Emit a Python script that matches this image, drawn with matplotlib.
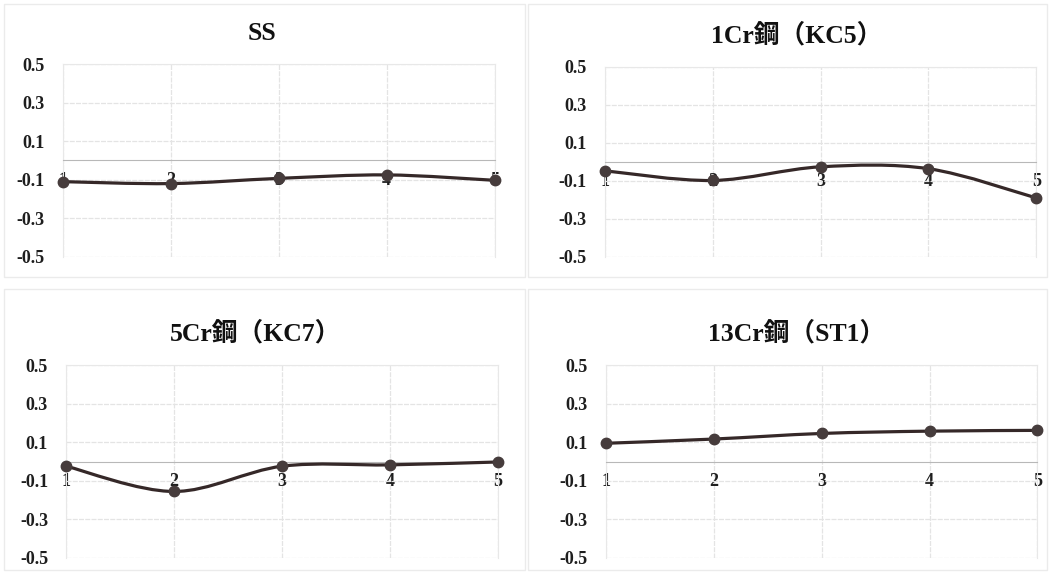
import numpy as np
import matplotlib
matplotlib.use("Agg")
import matplotlib.pyplot as plt
from matplotlib.path import Path
from matplotlib.patches import PathPatch, Rectangle

plt.rcParams['axes.unicode_minus'] = False

# data
points = [1, 2, 3, 4, 5]
yticks = [0.5, 0.3, 0.1, -0.1, -0.3, -0.5]
ss = [-0.11, -0.12, -0.093, -0.075, -0.103]
cr1 = [-0.047, -0.098, -0.026, -0.036, -0.19]
cr5 = [-0.024, -0.155, -0.024, -0.017, -0.002]
cr13 = [0.095, 0.117, 0.146, 0.158, 0.162]
titles = ['SS', '1Cr鋼（KC5）', '5Cr鋼（KC7）', '13Cr鋼（ST1）']
series = [ss, cr1, cr5, cr13]

# axes rectangles in figure fractions
boxes = [
    [0.060, 0.551, 0.411, 0.337],
    [0.576, 0.551, 0.411, 0.332],
    [0.063, 0.0245, 0.411, 0.337],
    [0.577, 0.0245, 0.411, 0.337],
]
frames = [
    [0.004, 0.515, 0.496, 0.478],
    [0.503, 0.515, 0.494, 0.478],
    [0.004, 0.004, 0.496, 0.49],
    [0.503, 0.004, 0.494, 0.49],
]
# chart titles are centred on the chart frame, not the plot area
title_pos = [(0.2495, 0.941), (0.759, 0.938), (0.243, 0.418), (0.759, 0.418)]

serif = ['Liberation Serif', 'Noto Sans CJK JP', 'DejaVu Serif']
line_col = '#352828'


def smooth_path(x, y):
    # Excel style smoothed line: cubic bezier through every point
    p = np.column_stack([x, y]).astype(float)
    n = len(p)
    verts = [p[0]]
    codes = [Path.MOVETO]
    for i in range(n - 1):
        p0 = p[max(i - 1, 0)]
        p1 = p[i]
        p2 = p[i + 1]
        p3 = p[min(i + 2, n - 1)]
        verts += [p1 + (p2 - p0) / 6, p2 - (p3 - p1) / 6, p2]
        codes += [Path.CURVE4] * 3
    return Path(verts, codes)


fig = plt.figure(figsize=(10.5, 5.72), dpi=100)

for fr in frames:
    fig.patches.append(Rectangle((fr[0], fr[1]), fr[2], fr[3], transform=fig.transFigure,
                                 fill=False, edgecolor='#ebebeb', lw=1))

for box, vals, title, tp in zip(boxes, series, titles, title_pos):
    ax = fig.add_axes(box)
    # move the category axis to y=0 first, it resets the ticks
    ax.spines['bottom'].set_position(('data', 0))
    ax.spines['bottom'].set_color('#b8b8b8')
    for s in ['top', 'right', 'left']:
        ax.spines[s].set_color('#e8e8e8')
    ax.set_xlim(1, 5)
    ax.set_ylim(-0.5, 0.5)
    ax.set_yticks(yticks)
    ax.set_yticklabels(['%.1f' % v for v in yticks], family=serif,
                       fontsize=13, fontweight='bold', color='#1e1e1e')
    ax.set_xticks(points)
    ax.set_xticklabels([str(p) for p in points], family=serif,
                       fontsize=13, fontweight='bold', color='#1e1e1e')
    ax.tick_params(axis='both', length=0)
    ax.tick_params(axis='y', pad=13)
    ax.tick_params(axis='x', pad=8)
    ax.grid(True, color='#e4e4e4', lw=0.9, ls=(0, (4, 1)))
    ax.set_axisbelow(True)

    path = smooth_path(points, vals)
    ax.add_patch(PathPatch(path, facecolor='none', edgecolor=line_col, lw=2.3,
                           clip_on=False, zorder=3))
    ax.plot(points, vals, 'o', color='#463c3c', markersize=7.5, clip_on=False, zorder=4)
    fig.text(tp[0], tp[1], title, family=serif, fontsize=18.5, fontweight='bold',
             color='#111111', ha='center', va='center')

fig.savefig('out.png', dpi=100, facecolor='white')
